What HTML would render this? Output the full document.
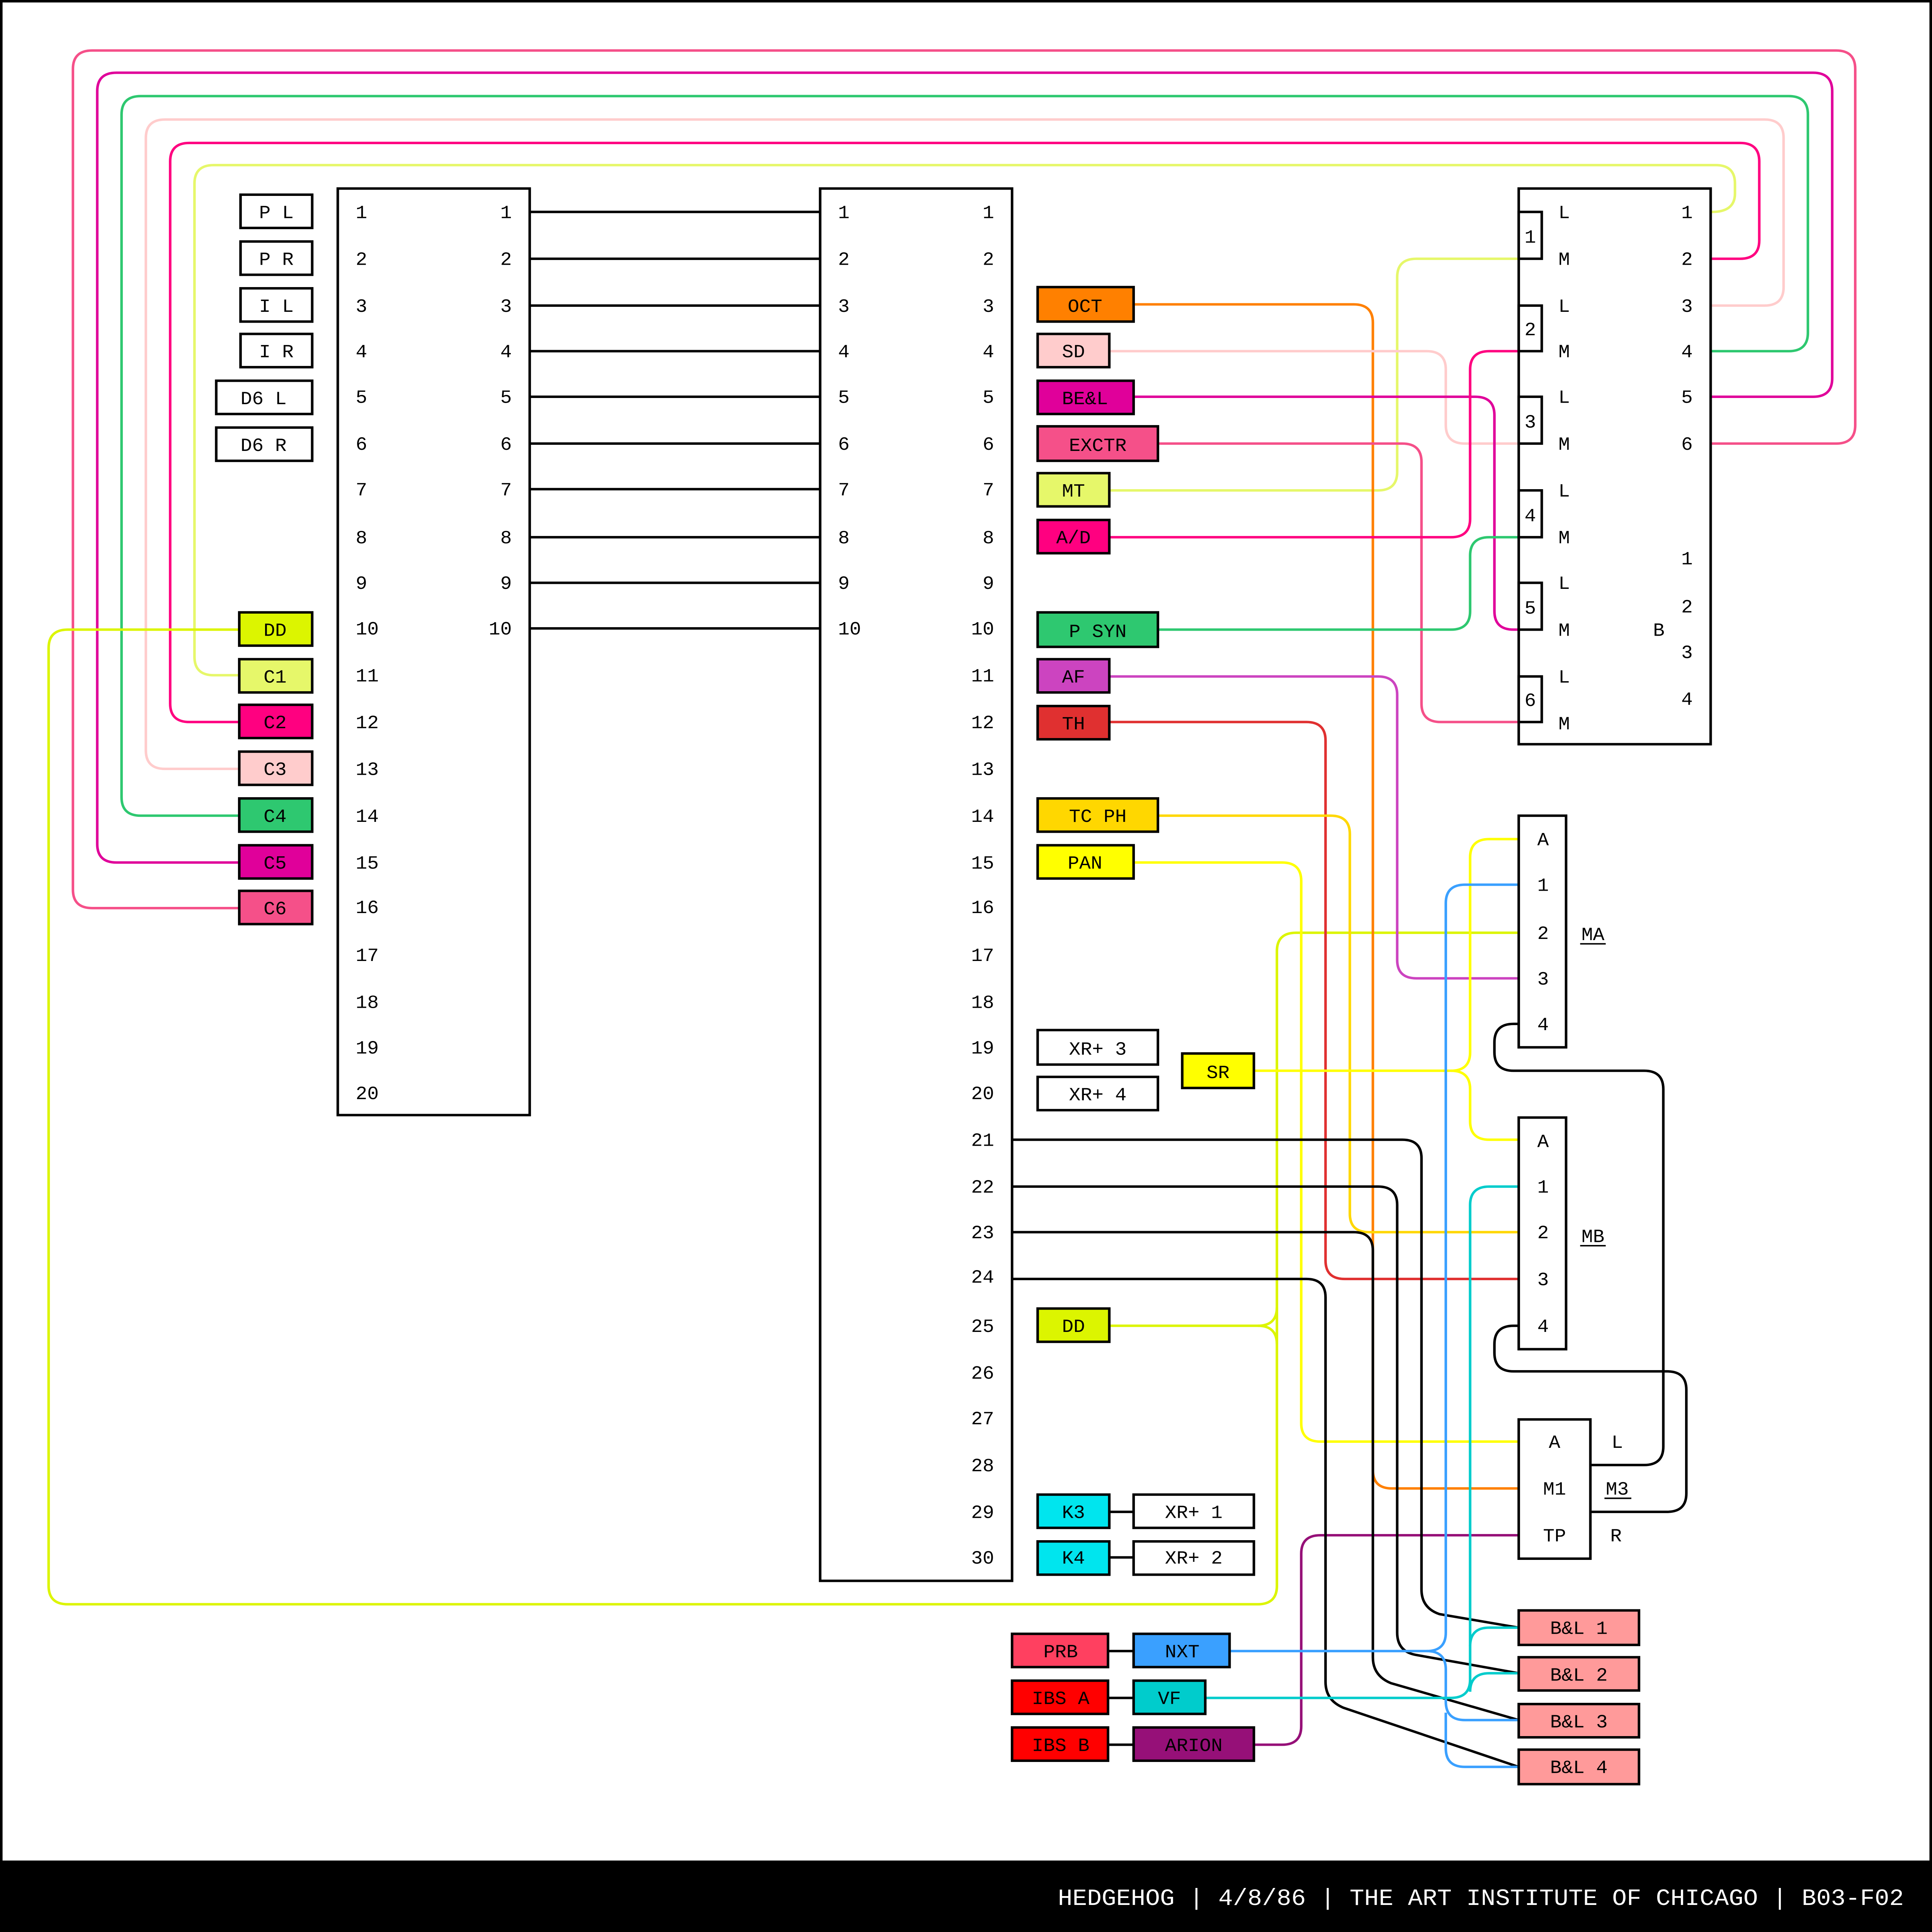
<!DOCTYPE html>
<html><head><meta charset="utf-8"><style>
html,body{margin:0;padding:0;background:#fff;width:100%;height:100%;overflow:hidden;}
svg{display:block;position:absolute;left:0;top:0;width:100vw;height:100vh;}
text{font-family:"Liberation Mono",monospace;font-size:15px;fill:#000;}
.w{fill:none;stroke-width:2;}
.b{stroke:#000;stroke-width:2;}
</style></head><body>
<svg viewBox="0 0 1510 1568" preserveAspectRatio="none" xmlns="http://www.w3.org/2000/svg">
<rect x="0" y="0" width="1510" height="1568" fill="#fff"/>
<rect x="1" y="1" width="1508" height="1566" fill="none" stroke="#000" stroke-width="2"/>
<rect x="0" y="1510" width="1510" height="58" fill="#000"/>
<text x="1488" y="1546" text-anchor="end" style="fill:#fff;font-size:19px" xml:space="preserve">HEDGEHOG | 4/8/86 | THE ART INSTITUTE OF CHICAGO | B03-F02</text>

<g class="w">
<path stroke="#e6f76a" d="M244,548 H167 Q152,548 152,533 V149 Q152,134 167,134 H1341 Q1356,134 1356,149 V157 Q1356,172 1338,172"/>
<path stroke="#ff0080" d="M244,586 H148 Q133,586 133,571 V131 Q133,116 148,116 H1360 Q1375,116 1375,131 V195 Q1375,210 1360,210 H1338"/>
<path stroke="#ffcccc" d="M244,624 H129 Q114,624 114,609 V112 Q114,97 129,97 H1379 Q1394,97 1394,112 V233 Q1394,248 1379,248 H1338"/>
<path stroke="#2ec870" d="M244,662 H110 Q95,662 95,647 V93 Q95,78 110,78 H1398 Q1413,78 1413,93 V270 Q1413,285 1398,285 H1338"/>
<path stroke="#e0009a" d="M244,700 H91 Q76,700 76,685 V74 Q76,59 91,59 H1417 Q1432,59 1432,74 V307 Q1432,322 1417,322 H1338"/>
<path stroke="#f55089" d="M244,737 H72 Q57,737 57,722 V56 Q57,41 72,41 H1435 Q1450,41 1450,56 V345 Q1450,360 1435,360 H1338"/>
<path stroke="#dcf500" d="M187,511 H53 Q38,511 38,526 V1287 Q38,1302 53,1302 H983 Q998,1302 998,1287 V772 Q998,757 1013,757 H1187"/>
<path stroke="#dcf500" d="M867,1076 H983 Q998,1076 998,1061"/>
<path stroke="#dcf500" d="M983,1076 Q998,1076 998,1091"/>
<path stroke="#e6f76a" d="M867,398 H1077 Q1092,398 1092,383 V225 Q1092,210 1107,210 H1187"/>
<path stroke="#ff8000" d="M886,247 H1058 Q1073,247 1073,262 V1193 Q1073,1208 1088,1208 H1187"/>
<path stroke="#ffcccc" d="M867,285 H1115 Q1130,285 1130,300 V345 Q1130,360 1145,360 H1187"/>
<path stroke="#e0009a" d="M886,322 H1153 Q1168,322 1168,337 V496 Q1168,511 1183,511 H1187"/>
<path stroke="#f55089" d="M905,360 H1096 Q1111,360 1111,375 V571 Q1111,586 1126,586 H1187"/>
<path stroke="#ff0080" d="M867,436 H1134 Q1149,436 1149,421 V300 Q1149,285 1164,285 H1187"/>
<path stroke="#2ec870" d="M905,511 H1134 Q1149,511 1149,496 V451 Q1149,436 1164,436 H1187"/>
<path stroke="#cc44c0" d="M867,549 H1077 Q1092,549 1092,564 V779 Q1092,794 1107,794 H1187"/>
<path stroke="#e03030" d="M867,586 H1021 Q1036,586 1036,601 V1023 Q1036,1038 1051,1038 H1187"/>
<path stroke="#ffd700" d="M905,662 H1040 Q1055,662 1055,677 V985 Q1055,1000 1070,1000 H1187"/>
<path stroke="#ffff00" d="M886,700 H1002 Q1017,700 1017,715 V1155 Q1017,1170 1032,1170 H1187"/>
<path stroke="#ffff00" d="M980,869 H1134 Q1149,869 1149,854 V696 Q1149,681 1164,681 H1187"/>
<path stroke="#ffff00" d="M1134,869 Q1149,869 1149,884 V910 Q1149,925 1164,925 H1187"/>
<path stroke="#961078" d="M980,1416 H1002 Q1017,1416 1017,1401 V1261 Q1017,1246 1032,1246 H1187"/>
<path stroke="#000" d="M1187,831 H1183 Q1168,831 1168,846 V854 Q1168,869 1183,869 H1285 Q1300,869 1300,884 V1174 Q1300,1189 1285,1189 H1243"/>
<path stroke="#000" d="M1187,1076 H1183 Q1168,1076 1168,1091 V1098 Q1168,1113 1183,1113 H1303 Q1318,1113 1318,1128 V1212 Q1318,1227 1303,1227 H1243"/>
<path stroke="#000" d="M791,925 H1096 Q1111,925 1111,940 V1290 Q1111,1305 1125,1310 L1187,1321"/>
<path stroke="#000" d="M791,963 H1077 Q1092,963 1092,978 V1325 Q1092,1340 1106,1343 L1187,1358"/>
<path stroke="#000" d="M791,1000 H1058 Q1073,1000 1073,1015 V1345 Q1073,1360 1087,1366 L1187,1396"/>
<path stroke="#000" d="M791,1038 H1021 Q1036,1038 1036,1053 V1365 Q1036,1380 1050,1386 L1187,1434"/>
<path stroke="#3aa0ff" d="M961,1340 H1115 Q1130,1340 1130,1325 V733 Q1130,718 1145,718 H1187"/>
<path stroke="#3aa0ff" d="M1115,1340 Q1130,1340 1130,1355 V1381 Q1130,1396 1145,1396 H1187"/>
<path stroke="#3aa0ff" d="M1130,1390 V1419 Q1130,1434 1145,1434 H1187"/>
<path stroke="#00cccc" d="M942,1378 H1134 Q1149,1378 1149,1363 V978 Q1149,963 1164,963 H1187"/>
<path stroke="#00cccc" d="M1149,1336 Q1149,1321 1164,1321 H1187"/>
<path stroke="#00cccc" d="M1149,1373 Q1149,1358 1164,1358 H1187"/>
<path stroke="#000" d="M867,1227 H886 M867,1264 H886 M866,1340 H886 M866,1378 H886 M866,1416 H886"/>
<path stroke="#000" d="M414,172H641 M414,210H641 M414,248H641 M414,285H641 M414,322H641 M414,360H641 M414,397H641 M414,436H641 M414,473H641 M414,510H641"/>
</g>

<g fill="#fff" class="b">
<rect x="264" y="153" width="150" height="752"/>
<rect x="641" y="153" width="150" height="1130"/>
<rect x="1187" y="153" width="150" height="451"/>
<rect x="1187" y="662" width="37" height="188"/>
<rect x="1187" y="907" width="37" height="188"/>
<rect x="1187" y="1152" width="56" height="113"/>
<rect x="1187" y="172" width="18" height="38"/>
<rect x="1187" y="248" width="18" height="37"/>
<rect x="1187" y="322" width="18" height="38"/>
<rect x="1187" y="398" width="18" height="38"/>
<rect x="1187" y="473" width="18" height="38"/>
<rect x="1187" y="549" width="18" height="37"/>
</g>
<g>
<text x="1196" y="197" text-anchor="middle">1</text>
<text x="1196" y="272" text-anchor="middle">2</text>
<text x="1196" y="347" text-anchor="middle">3</text>
<text x="1196" y="423" text-anchor="middle">4</text>
<text x="1196" y="498" text-anchor="middle">5</text>
<text x="1196" y="573" text-anchor="middle">6</text>
</g>

<g>
<text x="278" y="177">1</text><text x="278" y="215">2</text><text x="278" y="253">3</text><text x="278" y="290">4</text><text x="278" y="327">5</text><text x="278" y="365">6</text><text x="278" y="402">7</text><text x="278" y="441">8</text><text x="278" y="478">9</text><text x="278" y="515">10</text>
<text x="278" y="553">11</text><text x="278" y="591">12</text><text x="278" y="629">13</text><text x="278" y="667">14</text><text x="278" y="705">15</text><text x="278" y="741">16</text><text x="278" y="780">17</text><text x="278" y="818">18</text><text x="278" y="855">19</text><text x="278" y="892">20</text>
</g>
<g text-anchor="end">
<text x="400" y="177">1</text><text x="400" y="215">2</text><text x="400" y="253">3</text><text x="400" y="290">4</text><text x="400" y="327">5</text><text x="400" y="365">6</text><text x="400" y="402">7</text><text x="400" y="441">8</text><text x="400" y="478">9</text><text x="400" y="515">10</text>
</g>
<g>
<text x="655" y="177">1</text><text x="655" y="215">2</text><text x="655" y="253">3</text><text x="655" y="290">4</text><text x="655" y="327">5</text><text x="655" y="365">6</text><text x="655" y="402">7</text><text x="655" y="441">8</text><text x="655" y="478">9</text><text x="655" y="515">10</text>
</g>
<g text-anchor="end">
<text x="777" y="177">1</text><text x="777" y="215">2</text><text x="777" y="253">3</text><text x="777" y="290">4</text><text x="777" y="327">5</text><text x="777" y="365">6</text><text x="777" y="402">7</text><text x="777" y="441">8</text><text x="777" y="478">9</text><text x="777" y="515">10</text>
<text x="777" y="553">11</text><text x="777" y="591">12</text><text x="777" y="629">13</text><text x="777" y="667">14</text><text x="777" y="705">15</text><text x="777" y="741">16</text><text x="777" y="780">17</text><text x="777" y="818">18</text><text x="777" y="855">19</text><text x="777" y="892">20</text>
<text x="777" y="930">21</text><text x="777" y="968">22</text><text x="777" y="1005">23</text><text x="777" y="1041">24</text><text x="777" y="1081">25</text><text x="777" y="1119">26</text><text x="777" y="1156">27</text><text x="777" y="1194">28</text><text x="777" y="1232">29</text><text x="777" y="1269">30</text>
</g>

<g>
<text x="1218" y="177">L</text><text x="1218" y="215">M</text><text x="1218" y="253">L</text><text x="1218" y="290">M</text><text x="1218" y="327">L</text><text x="1218" y="365">M</text><text x="1218" y="403">L</text><text x="1218" y="441">M</text><text x="1218" y="478">L</text><text x="1218" y="516">M</text><text x="1218" y="554">L</text><text x="1218" y="592">M</text>
<text x="1314" y="177">1</text><text x="1314" y="215">2</text><text x="1314" y="253">3</text><text x="1314" y="290">4</text><text x="1314" y="327">5</text><text x="1314" y="365">6</text>
<text x="1314" y="458">1</text><text x="1314" y="497">2</text><text x="1314" y="534">3</text><text x="1314" y="572">4</text><text x="1292" y="516">B</text>
</g>
<g text-anchor="middle">
<text x="1206" y="686">A</text><text x="1206" y="723">1</text><text x="1206" y="762">2</text><text x="1206" y="799">3</text><text x="1206" y="836">4</text>
<text x="1206" y="931">A</text><text x="1206" y="968">1</text><text x="1206" y="1005">2</text><text x="1206" y="1043">3</text><text x="1206" y="1081">4</text>
<text x="1215" y="1175">A</text><text x="1215" y="1213">M1</text><text x="1215" y="1251">TP</text>
<text x="1264" y="1175">L</text><text x="1264" y="1213">M3</text><text x="1263" y="1251">R</text>
<text x="1245" y="763">MA</text><text x="1245" y="1008">MB</text>
</g>
<path d="M1235,766H1255 M1235,1011H1255 M1254,1216H1275" stroke="#000" stroke-width="1.2"/>

<g class="b">
<rect x="188" y="158" width="56" height="27" fill="#fff"/>
<rect x="188" y="196" width="56" height="27" fill="#fff"/>
<rect x="188" y="234" width="56" height="27" fill="#fff"/>
<rect x="188" y="271" width="56" height="27" fill="#fff"/>
<rect x="169" y="309" width="75" height="27" fill="#fff"/>
<rect x="169" y="347" width="75" height="27" fill="#fff"/>
<rect x="187" y="497" width="57" height="27" fill="#dcf500"/>
<rect x="187" y="535" width="57" height="27" fill="#e6f76a"/>
<rect x="187" y="572" width="57" height="27" fill="#ff0080"/>
<rect x="187" y="610" width="57" height="27" fill="#ffcccc"/>
<rect x="187" y="648" width="57" height="27" fill="#2ec870"/>
<rect x="187" y="686" width="57" height="27" fill="#e0009a"/>
<rect x="187" y="723" width="57" height="27" fill="#f55089"/>
<rect x="811" y="233" width="75" height="28" fill="#ff8000"/>
<rect x="811" y="271" width="56" height="27" fill="#ffcccc"/>
<rect x="811" y="309" width="75" height="27" fill="#e0009a"/>
<rect x="811" y="346" width="94" height="28" fill="#f55089"/>
<rect x="811" y="384" width="56" height="27" fill="#e6f76a"/>
<rect x="811" y="422" width="56" height="27" fill="#ff0080"/>
<rect x="811" y="497" width="94" height="28" fill="#2ec870"/>
<rect x="811" y="535" width="56" height="27" fill="#cc44c0"/>
<rect x="811" y="573" width="56" height="27" fill="#e03030"/>
<rect x="811" y="648" width="94" height="27" fill="#ffd700"/>
<rect x="811" y="686" width="75" height="27" fill="#ffff00"/>
<rect x="811" y="836" width="94" height="28" fill="#fff"/>
<rect x="811" y="874" width="94" height="27" fill="#fff"/>
<rect x="924" y="855" width="56" height="28" fill="#ffff00"/>
<rect x="811" y="1062" width="56" height="27" fill="#dcf500"/>
<rect x="811" y="1213" width="56" height="27" fill="#00e5ee"/>
<rect x="811" y="1251" width="56" height="27" fill="#00e5ee"/>
<rect x="886" y="1213" width="94" height="27" fill="#fff"/>
<rect x="886" y="1251" width="94" height="27" fill="#fff"/>
<rect x="791" y="1326" width="75" height="27" fill="#ff4060"/>
<rect x="886" y="1326" width="75" height="27" fill="#3aa0ff"/>
<rect x="791" y="1364" width="75" height="27" fill="#ff0000"/>
<rect x="886" y="1364" width="56" height="27" fill="#00cccc"/>
<rect x="791" y="1402" width="75" height="27" fill="#ff0000"/>
<rect x="886" y="1402" width="94" height="27" fill="#961078"/>
<rect x="1187" y="1307" width="94" height="28" fill="#ff9a9a"/>
<rect x="1187" y="1345" width="94" height="27" fill="#ff9a9a"/>
<rect x="1187" y="1383" width="94" height="27" fill="#ff9a9a"/>
<rect x="1187" y="1420" width="94" height="28" fill="#ff9a9a"/>
</g>
<g text-anchor="middle" xml:space="preserve">
<text x="216" y="177">P L</text><text x="216" y="215">P R</text><text x="216" y="253">I L</text><text x="216" y="290">I R</text>
<text x="206" y="328">D6 L</text><text x="206" y="366">D6 R</text>
<text x="215" y="516">DD</text><text x="215" y="554">C1</text><text x="215" y="591">C2</text><text x="215" y="629">C3</text><text x="215" y="667">C4</text><text x="215" y="705">C5</text><text x="215" y="742">C6</text>
<text x="848" y="253">OCT</text><text x="839" y="290">SD</text><text x="848" y="328">BE&amp;L</text><text x="858" y="366">EXCTR</text>
<text x="839" y="403">MT</text><text x="839" y="441">A/D</text><text x="858" y="517">P SYN</text><text x="839" y="554">AF</text><text x="839" y="592">TH</text>
<text x="858" y="667">TC PH</text><text x="848" y="705">PAN</text><text x="858" y="856">XR+ 3</text><text x="858" y="893">XR+ 4</text><text x="952" y="875">SR</text>
<text x="839" y="1081">DD</text><text x="839" y="1232">K3</text><text x="839" y="1269">K4</text><text x="933" y="1232">XR+ 1</text><text x="933" y="1269">XR+ 2</text>
<text x="829" y="1345">PRB</text><text x="924" y="1345">NXT</text><text x="829" y="1383">IBS A</text><text x="914" y="1383">VF</text><text x="829" y="1421">IBS B</text><text x="933" y="1421">ARION</text>
<text x="1234" y="1326">B&amp;L 1</text><text x="1234" y="1364">B&amp;L 2</text><text x="1234" y="1402">B&amp;L 3</text><text x="1234" y="1439">B&amp;L 4</text>
</g>
</svg>
</body></html>
